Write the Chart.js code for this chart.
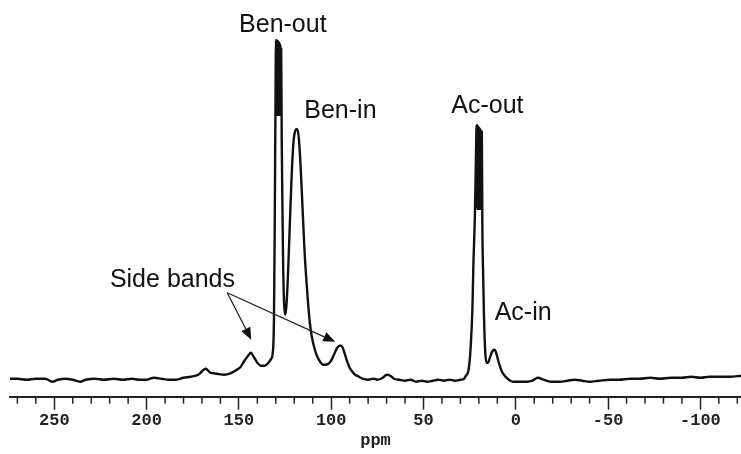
<!DOCTYPE html>
<html>
<head>
<meta charset="utf-8">
<script src="https://cdn.jsdelivr.net/npm/chart.js@4/dist/chart.umd.min.js"></script>
<style>
  html, body { margin: 0; padding: 0; background: #fff; }
  #wrap { width: 741px; height: 454px; }
</style>
</head>
<body>
<div id="wrap"><canvas id="nmrChart"></canvas></div>
<script>
// chemical shift (ppm) and intensity
const ppm = [274, 270, 265, 260, 255, 251, 248, 244, 240, 236, 233, 228, 223, 218, 213, 208, 204, 200, 196, 192,
  188, 184, 180, 176, 172, 168, 165.5, 162, 158, 155, 152, 149, 147, 145, 143.5, 142, 140, 138, 136, 134,
  132.5, 131.8, 131, 130.6, 130.2,
  129.9, 129.7, 129.5, 129.3, 129.1, 128.9, 128.7, 128.5, 128.3, 128.1, 127.9, 127.7, 127.5, 127.3, 127.1,
  126.8, 126.4, 126, 125.5, 125,
  124.3, 123.5, 122.5, 121.5, 120.5, 119.5, 118.5, 117.5, 116.5, 115.5, 114.5, 113.5, 112.5, 111.5, 110.5, 109,
  107.5, 106, 104.5, 103, 101.5, 100, 98.5, 97, 95.5, 94.5, 93, 91.5, 90, 88.5, 87, 85, 83, 80, 77, 75, 72, 70,
  68, 66, 63, 60, 57, 54, 51, 48, 45, 42, 39, 36, 33, 30, 28, 27.4, 25.5, 24.5, 23.5, 23, 22.2, 21.6,
  21.2, 21.0, 20.8, 20.6, 20.4, 20.2, 20.0, 19.8, 19.6, 19.4, 19.2, 19.0, 18.8, 18.6, 18.4,
  18.1, 17.7, 17.2, 16.5, 15.8, 15, 14.2, 13.5, 12.5, 11.5, 10.5,
  9.5, 8.5, 7.5, 6, 4.5, 3, 1.5, -2, -6, -9, -12, -15, -19, -24, -28, -32, -36, -40, -45, -51, -56, -62, -67,
  -73, -78, -84, -90, -95, -100, -105, -110, -116, -122];
const intensity = [0, 0, -1, 0, 0, -3, -1, 0, -1, -3, -1, 0, -1, 0, -1, 0, -1, -1, 1, 0,
  -1, -1, 1, 2, 4, 10, 6, 5, 4, 5, 8, 12, 18, 23, 26, 22, 16, 13, 13, 16,
  20, 24, 60, 150, 270,
  339, 264, 339, 264, 338, 264, 338, 264, 337, 264, 336, 264, 334, 264, 330,
  240, 170, 110, 75, 64,
  72, 100, 150, 200, 235, 248, 250, 240, 210, 170, 130, 100, 75, 55, 42, 30,
  22, 17, 14, 14, 15, 18, 24, 30, 33, 33, 27, 18, 11, 7, 4, 2, 0, -1, 0, -1, 1, 4,
  3, 0, -1, -2, -1, -3, -2, -3, -2, -1, -2, -1, -2, -1, 0, 2, 10, 30, 70, 112, 160, 220,
  254, 170, 254, 170, 253, 170, 252, 170, 251, 170, 250, 170, 249, 170, 247,
  150, 105, 60, 25, 16, 16, 20, 24, 28, 29, 25,
  18, 12, 7, 3, 0, -2, -3, -3, -3, -2, 1, -1, -3, -3, -2, -1, -2, -3, -2, -1, -1, 0, 0,
  1, 0, 1, 1, 2, 1, 2, 2, 2, 3];

// text labels: [text, ppm, intensity at baseline]
const labelText = ['Ben-out', 'Ben-in', 'Ac-out', 'Ac-in', 'Side bands'];
const labelPpm = [126.2, 95, 15.4, -4, 186];
const labelY = [347, 261, 266, 59, 92];

// arrows from the "Side bands" label to the two spinning side bands
const arrowFrom = [156.3, 86];
const arrowTo = [[143.3, 39], [97.8, 37]];

const points = ppm.map((p, i) => ({ x: p, y: intensity[i] }));

const annotations = {
  id: 'annotations',
  afterDraw(chart) {
    const ctx = chart.ctx;
    const xs = chart.scales.x;
    const ys = chart.scales.y;
    ctx.save();

    // minor ticks every 10 ppm
    ctx.strokeStyle = '#222';
    ctx.lineWidth = 1.5;
    xs.ticks.forEach((t, i) => {
      if (t.value % 50 !== 0) {
        const px = xs.getPixelForTick(i);
        ctx.beginPath();
        ctx.moveTo(px, xs.top);
        ctx.lineTo(px, xs.top + 7);
        ctx.stroke();
      }
    });

    ctx.fillStyle = '#111';
    ctx.font = '25px "Liberation Sans", Arial, sans-serif';
    ctx.textAlign = 'center';
    ctx.textBaseline = 'alphabetic';
    labelText.forEach((txt, i) => {
      ctx.fillText(txt, xs.getPixelForValue(labelPpm[i]), ys.getPixelForValue(labelY[i]));
    });

    // arrows
    const x0 = xs.getPixelForValue(arrowFrom[0]);
    const y0 = ys.getPixelForValue(arrowFrom[1]);
    ctx.strokeStyle = '#222';
    ctx.lineWidth = 1.3;
    arrowTo.forEach(a => {
      const x1 = xs.getPixelForValue(a[0]);
      const y1 = ys.getPixelForValue(a[1]);
      const ang = Math.atan2(y1 - y0, x1 - x0);
      const len = 12, half = 5;
      const bx = x1 - len * Math.cos(ang), by = y1 - len * Math.sin(ang);
      ctx.beginPath();
      ctx.moveTo(x0, y0);
      ctx.lineTo(bx, by);
      ctx.stroke();
      ctx.beginPath();
      ctx.moveTo(x1, y1);
      ctx.lineTo(bx + half * Math.sin(ang), by - half * Math.cos(ang));
      ctx.lineTo(bx - half * Math.sin(ang), by + half * Math.cos(ang));
      ctx.closePath();
      ctx.fill();
    });
    ctx.restore();
  }
};

new Chart(document.getElementById('nmrChart'), {
  type: 'line',
  data: {
    datasets: [{
      data: points,
      borderColor: '#111',
      borderWidth: 2.4,
      pointRadius: 0,
      fill: false,
      cubicInterpolationMode: 'monotone'
    }]
  },
  options: {
    responsive: true,
    maintainAspectRatio: false,
    animation: false,
    layout: { padding: { left: 10, right: 0, top: 10, bottom: 0 } },
    plugins: {
      legend: { display: false },
      tooltip: { enabled: false }
    },
    scales: {
      x: {
        type: 'linear',
        reverse: true,
        min: -122,
        max: 274,
        border: { display: true, color: '#222', width: 2 },
        grid: {
          drawOnChartArea: false,
          tickLength: 13,
          tickWidth: 1.5,
          tickColor: c => (c.tick && c.tick.value % 50 === 0) ? '#222' : 'rgba(0,0,0,0)'
        },
        ticks: {
          stepSize: 10,
          autoSkip: false,
          includeBounds: false,
          maxRotation: 0,
          padding: 3,
          color: '#222',
          font: { family: '"Liberation Mono", "Courier New", monospace', size: 17, weight: 'bold', lineHeight: 1.0 },
          callback: v => (v % 50 === 0 ? String(v) : '')
        },
        title: {
          display: true,
          text: 'ppm',
          color: '#222',
          padding: { top: 0, bottom: 6 },
          font: { family: '"Liberation Mono", "Courier New", monospace', size: 17, weight: 'bold', lineHeight: 0.9 }
        }
      },
      y: {
        display: false,
        min: -18,
        max: 369
      }
    }
  },
  plugins: [annotations]
});
</script>
</body>
</html>
